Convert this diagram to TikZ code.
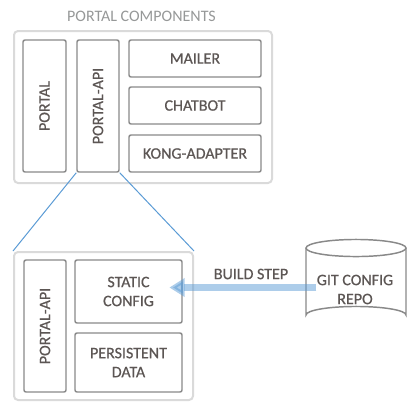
\documentclass[tikz,border=0pt]{standalone}
\usepackage{fontspec}
\setmainfont{Carlito}
\newfontfamily\labelfont[FakeBold=0.6]{Carlito}
\usetikzlibrary{arrows.meta}

\definecolor{boxgray}{RGB}{137,137,137}
\definecolor{framegray}{RGB}{218,218,218}
\definecolor{textgray}{RGB}{92,86,84}
\definecolor{titlegray}{RGB}{150,152,152}
\definecolor{linkblue}{RGB}{91,155,213}

\tikzset{every picture/.style={line width=0.75pt}}
\tikzset{
  frame/.style={draw=framegray, line width=1.5pt, rounded corners=3pt, inner sep=0pt},
  comp/.style={draw=boxgray, line width=1.1pt, rounded corners=1.5pt, inner sep=0pt,
    text=textgray, align=center, font=\labelfont\fontsize{12}{14.25}\selectfont},
  title/.style={text=titlegray, inner sep=0pt, font=\fontsize{12}{14.25}\selectfont},
  lbl/.style={text=textgray, inner sep=0pt, align=center, font=\labelfont\fontsize{12}{14.25}\selectfont},
  cyl/.style={draw=boxgray, line width=1.1pt},
  zoomline/.style={draw=linkblue, line width=0.75pt},
  buildarrow/.style={draw=linkblue, opacity=0.5, line width=5.25pt,
    -{Triangle[width=13.5pt,length=11.5pt]}}
}

\begin{document}
\begin{tikzpicture}[x=0.75pt,y=0.75pt,yscale=-1,xscale=1]
\useasboundingbox (0,0) rectangle (420,412);

% Portal components
\node[frame, minimum width=193.5pt, minimum height=114pt] (comps) at (143,107) {};
\node[title] (title) at (141.5,16) {PORTAL COMPONENTS};
\node[comp, minimum width=32.25pt, minimum height=99pt] (portal) at (44.5,106) {\rotatebox{90}{PORTAL}};
\node[comp, minimum width=31.5pt, minimum height=99pt] (api) at (98,106) {\rotatebox{90}{PORTAL-API}};
\node[comp, minimum width=99pt, minimum height=27.75pt] (mailer) at (195,58.5) {MAILER};
\node[comp, minimum width=99pt, minimum height=27.75pt] (chatbot) at (195,105.5) {CHATBOT};
\node[comp, minimum width=99pt, minimum height=27.75pt] (kong) at (195,153.5) {KONG-ADAPTER};

% Portal-API detail
\node[frame, minimum width=134.25pt, minimum height=111pt] (detail) at (103.5,326) {};
\node[comp, minimum width=31.5pt, minimum height=99pt] (api2) at (45,326) {\rotatebox{90}{PORTAL-API}};
\node[comp, minimum width=80.25pt, minimum height=47.25pt] (static) at (128.5,291.5) {STATIC\\CONFIG};
\node[comp, minimum width=80.25pt, minimum height=44.25pt] (persist) at (128.5,362.5) {PERSISTENT\\DATA};

% zoom lines
\draw[zoomline] (api.south west) -- (detail.north west);
\draw[zoomline] (api.south east) -- (detail.north east);

% Git repo (cylinder) and build step
\draw[cyl] (306,248) -- (306,315) arc[start angle=180, end angle=360, x radius=37.5pt, y radius=6.4pt] -- (406,248);
\draw[cyl] (356,248) ellipse [x radius=37.5pt, y radius=6.4pt];
\node[lbl] (repo) at (355,289.5) {GIT CONFIG\\REPO};
\node[lbl] (buildlbl) at (251,274) {BUILD STEP};
\coordinate (tip) at ([xshift=-10pt,yshift=-3pt]static.east);
\draw[buildarrow] (repo.west |- tip) -- (tip);

\end{tikzpicture}
\end{document}
